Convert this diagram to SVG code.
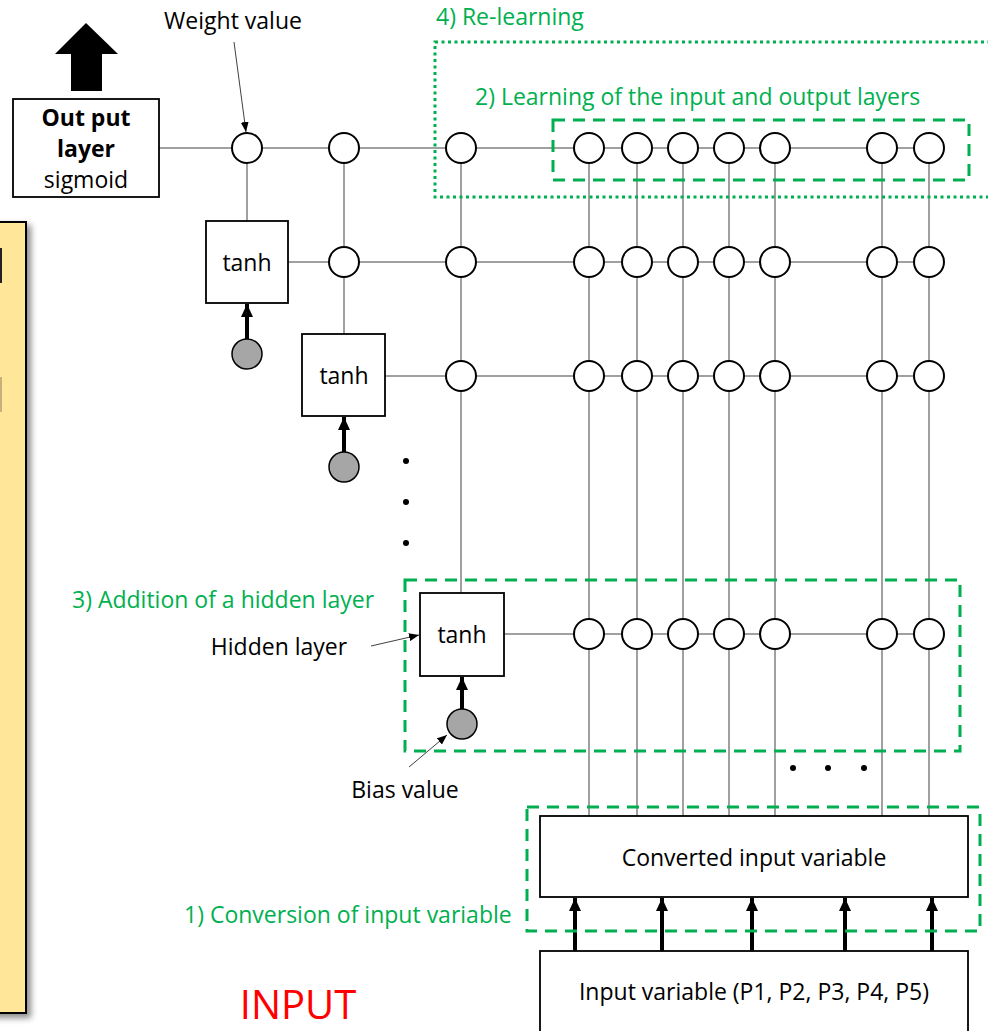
<svg xmlns="http://www.w3.org/2000/svg" width="988" height="1031" viewBox="0 0 988 1031">
  <defs>
    <style>
      text { font-family: "Open Sans", "Noto Sans", "Liberation Sans", sans-serif; font-size: 23px; fill: #000; }
      .green { fill: #00B050; }
      .bold { font-weight: bold; }
      .grid { stroke: #808080; stroke-width: 1.5; fill: none; }
      .node { fill: #fff; stroke: #000; stroke-width: 2; }
      .bias { fill: #A6A6A6; stroke: #000; stroke-width: 1.5; }
      .box { fill: #fff; stroke: #000; stroke-width: 1.8; }
      .dash { fill: none; stroke: #00B050; stroke-width: 3; stroke-dasharray: 12 8; }
      .dot { fill: none; stroke: #00B050; stroke-width: 3; stroke-dasharray: 3 3.5; }
      .thick { stroke: #000; stroke-width: 4; fill: none; marker-end: url(#headBig); }
      .callout { stroke: #404040; stroke-width: 1; fill: none; marker-end: url(#headSmall); }
    </style>
    <marker id="headBig" markerUnits="userSpaceOnUse" markerWidth="14" markerHeight="14" viewBox="0 0 14 14" refX="13" refY="7" orient="auto">
      <path d="M0,1 L13,7 L0,13 Z" fill="#000"/>
    </marker>
    <marker id="headSmall" markerUnits="userSpaceOnUse" markerWidth="10" markerHeight="8" viewBox="0 0 10 8" refX="10" refY="4" orient="auto">
      <path d="M0,0 L10,4 L0,8 Z" fill="#000"/>
    </marker>
    <filter id="shadow" x="-50%" y="-5%" width="200%" height="110%">
      <feDropShadow dx="4" dy="4" stdDeviation="3" flood-color="#000" flood-opacity="0.45"/>
    </filter>
  </defs>

  <!-- side panel -->
  <g id="side-panel">
    <rect x="-10" y="222" width="36" height="791" fill="#FFE699" stroke="#000" stroke-width="2" filter="url(#shadow)"/>
    <rect x="0" y="248" width="2" height="35" fill="#222"/>
    <rect x="0" y="377" width="2" height="35" fill="#C8B07A"/>
  </g>

  <!-- connectors -->
  <g id="connectors">
    <!-- horizontal rows -->
    <line class="grid" x1="159" y1="148" x2="929" y2="148"/>
    <line class="grid" x1="288" y1="262" x2="929" y2="262"/>
    <line class="grid" x1="385" y1="376" x2="929" y2="376"/>
    <line class="grid" x1="504" y1="634" x2="929" y2="634"/>
    <!-- vertical columns -->
    <line class="grid" x1="247" y1="148" x2="247" y2="221"/>
    <line class="grid" x1="344" y1="148" x2="344" y2="334"/>
    <line class="grid" x1="461" y1="148" x2="461" y2="593"/>
    <line class="grid" x1="589" y1="148" x2="589" y2="816"/>
    <line class="grid" x1="637" y1="148" x2="637" y2="816"/>
    <line class="grid" x1="683" y1="148" x2="683" y2="816"/>
    <line class="grid" x1="729" y1="148" x2="729" y2="816"/>
    <line class="grid" x1="775" y1="148" x2="775" y2="816"/>
    <line class="grid" x1="882" y1="148" x2="882" y2="816"/>
    <line class="grid" x1="929" y1="148" x2="929" y2="816"/>
    <!-- bias inputs -->
    <line class="thick" x1="247" y1="339" x2="247" y2="304"/>
    <line class="thick" x1="344" y1="452" x2="344" y2="417"/>
    <line class="thick" x1="462" y1="709" x2="462" y2="677"/>
    <!-- input variable to converted variable -->
    <line class="thick" x1="575" y1="951" x2="575" y2="898"/>
    <line class="thick" x1="662" y1="951" x2="662" y2="898"/>
    <line class="thick" x1="752" y1="951" x2="752" y2="898"/>
    <line class="thick" x1="845" y1="951" x2="845" y2="898"/>
    <line class="thick" x1="932" y1="951" x2="932" y2="898"/>
    <!-- callouts -->
    <line class="callout" x1="234" y1="42" x2="246" y2="132"/>
    <line class="callout" x1="371" y1="646" x2="419" y2="635"/>
    <line class="callout" x1="409" y1="767" x2="447" y2="735"/>
  </g>

  <!-- output layer -->
  <g id="output-layer">
    <polygon points="86,23 118,54 102,54 102,91 71,91 71,54 55,54" fill="#000"/>
    <rect class="box" x="13" y="99" width="146" height="98"/>
    <text class="bold" x="86" y="126" text-anchor="middle">Out put</text>
    <text class="bold" x="86" y="157" text-anchor="middle">layer</text>
    <text x="86" y="188" text-anchor="middle">sigmoid</text>
  </g>

  <!-- hidden units -->
  <g id="hidden-1">
    <rect class="box" x="206" y="221" width="82" height="82"/>
    <text x="247" y="271" text-anchor="middle">tanh</text>
    <circle class="bias" cx="247" cy="354" r="15"/>
  </g>
  <g id="hidden-2">
    <rect class="box" x="302" y="334" width="83" height="82"/>
    <text x="344" y="384" text-anchor="middle">tanh</text>
    <circle class="bias" cx="344" cy="467" r="15"/>
  </g>
  <g id="hidden-n">
    <rect class="box" x="420" y="593" width="84" height="83"/>
    <text x="462" y="643" text-anchor="middle">tanh</text>
    <circle class="bias" cx="462" cy="724" r="15"/>
  </g>

  <!-- weight nodes -->
  <g id="weights">
    <circle class="node" cx="247" cy="148" r="15"/>
    <circle class="node" cx="344" cy="148" r="15"/>
    <circle class="node" cx="461" cy="148" r="15"/>
    <circle class="node" cx="589" cy="148" r="15"/>
    <circle class="node" cx="637" cy="148" r="15"/>
    <circle class="node" cx="683" cy="148" r="15"/>
    <circle class="node" cx="729" cy="148" r="15"/>
    <circle class="node" cx="775" cy="148" r="15"/>
    <circle class="node" cx="882" cy="148" r="15"/>
    <circle class="node" cx="929" cy="148" r="15"/>

    <circle class="node" cx="344" cy="262" r="15"/>
    <circle class="node" cx="461" cy="262" r="15"/>
    <circle class="node" cx="589" cy="262" r="15"/>
    <circle class="node" cx="637" cy="262" r="15"/>
    <circle class="node" cx="683" cy="262" r="15"/>
    <circle class="node" cx="729" cy="262" r="15"/>
    <circle class="node" cx="775" cy="262" r="15"/>
    <circle class="node" cx="882" cy="262" r="15"/>
    <circle class="node" cx="929" cy="262" r="15"/>

    <circle class="node" cx="461" cy="376" r="15"/>
    <circle class="node" cx="589" cy="376" r="15"/>
    <circle class="node" cx="637" cy="376" r="15"/>
    <circle class="node" cx="683" cy="376" r="15"/>
    <circle class="node" cx="729" cy="376" r="15"/>
    <circle class="node" cx="775" cy="376" r="15"/>
    <circle class="node" cx="882" cy="376" r="15"/>
    <circle class="node" cx="929" cy="376" r="15"/>

    <circle class="node" cx="589" cy="634" r="15"/>
    <circle class="node" cx="637" cy="634" r="15"/>
    <circle class="node" cx="683" cy="634" r="15"/>
    <circle class="node" cx="729" cy="634" r="15"/>
    <circle class="node" cx="775" cy="634" r="15"/>
    <circle class="node" cx="882" cy="634" r="15"/>
    <circle class="node" cx="929" cy="634" r="15"/>
  </g>

  <!-- ellipsis dots -->
  <g id="ellipsis" fill="#000">
    <circle cx="406" cy="461" r="3"/>
    <circle cx="406" cy="502" r="3"/>
    <circle cx="406" cy="543" r="3"/>
    <circle cx="793" cy="768" r="3"/>
    <circle cx="828" cy="768" r="3"/>
    <circle cx="864" cy="768" r="3"/>
  </g>

  <!-- input boxes -->
  <g id="converted-input">
    <rect class="box" x="540" y="816" width="428" height="81"/>
    <text x="754" y="866" text-anchor="middle">Converted input variable</text>
  </g>
  <g id="input-variable">
    <rect class="box" x="540" y="951" width="428" height="100"/>
    <text x="754" y="1000" text-anchor="middle">Input variable (P1, P2, P3, P4, P5)</text>
  </g>

  <!-- step regions -->
  <g id="regions">
    <rect class="dot" x="435" y="42" width="570" height="155"/>
    <rect class="dash" x="553" y="120" width="416" height="60"/>
    <rect class="dash" x="405" y="580" width="555" height="171"/>
    <rect class="dash" x="527" y="807" width="453" height="124"/>
  </g>

  <!-- labels -->
  <g id="labels">
    <text x="233" y="29" text-anchor="middle">Weight value</text>
    <text x="279" y="655" text-anchor="middle">Hidden layer</text>
    <text x="405" y="798" text-anchor="middle">Bias value</text>
    <text class="green" x="436" y="25">4) Re-learning</text>
    <text class="green" x="475" y="105">2) Learning of the input and output layers</text>
    <text class="green" x="72" y="608">3) Addition of a hidden layer</text>
    <text class="green" x="184" y="923">1) Conversion of input variable</text>
    <text x="298" y="1019" text-anchor="middle" style="fill:#FF0000;font-size:40px">INPUT</text>
  </g>
</svg>
